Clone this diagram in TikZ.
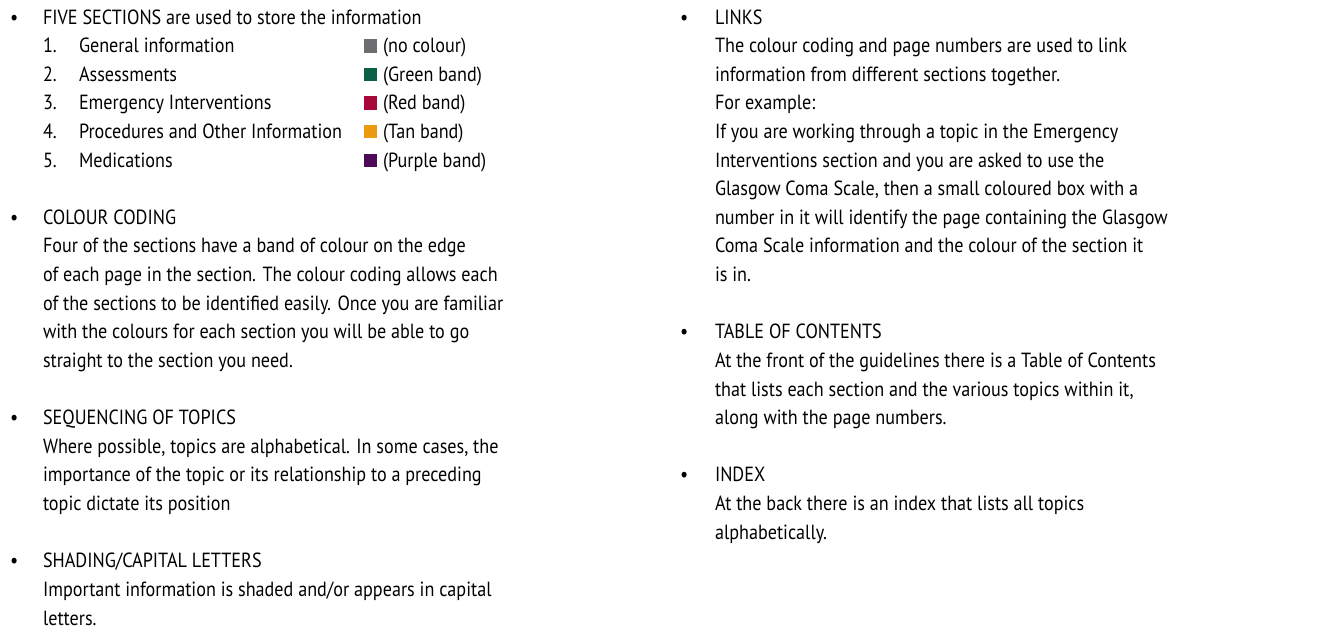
\documentclass[tikz,border=0pt]{standalone}
\usepackage{fontspec}
\newfontfamily\txtfont[FakeStretch=0.885]{PT Sans}
\definecolor{sqgray}{HTML}{6D6E71}
\definecolor{sqgreen}{HTML}{0B6148}
\definecolor{sqred}{HTML}{A8093A}
\definecolor{sqtan}{HTML}{EE9A0F}
\definecolor{sqpurple}{HTML}{4D0A57}
\begin{document}
\begin{tikzpicture}[x=1pt,y=-1pt,
  txt/.style={anchor=base west,inner sep=0pt,outer sep=0pt,font=\txtfont\fontsize{20.5}{28.62}\selectfont},
  sq/.style={anchor=south west,inner sep=0pt,outer sep=0pt,minimum size=13.4pt}]
\useasboundingbox (0,0) rectangle (1320,629);
\newcommand\Ln[4]{\node[txt] (#1) at (#2,{24+#3*28.62}) {#4};}
% left column
\Ln{b1}{10}{0}{•}
\Ln{l0}{43}{0}{FIVE SECTIONS are used to store the information}
\Ln{n1}{43}{1}{1.}\Ln{i1}{79}{1}{General information}
\Ln{n2}{43}{2}{2.}\Ln{i2}{79}{2}{Assessments}
\Ln{n3}{43}{3}{3.}\Ln{i3}{79}{3}{Emergency Interventions}
\Ln{n4}{43}{4}{4.}\Ln{i4}{79}{4}{Procedures and Other Information}
\Ln{n5}{43}{5}{5.}\Ln{i5}{79}{5}{Medications}
\node[sq,fill=sqgray] (s1) at (363.5,{24+1*28.62}) {};
\node[sq,fill=sqgreen] (s2) at (363.5,{24+2*28.62}) {};
\node[sq,fill=sqred] (s3) at (363.5,{24+3*28.62}) {};
\node[sq,fill=sqtan] (s4) at (363.5,{24+4*28.62}) {};
\node[sq,fill=sqpurple] (s5) at (363.5,{24+5*28.62}) {};
\Ln{c1}{383}{1}{(no colour)}
\Ln{c2}{383}{2}{(Green band)}
\Ln{c3}{383}{3}{(Red band)}
\Ln{c4}{383}{4}{(Tan band)}
\Ln{c5}{383}{5}{(Purple band)}
\Ln{b2}{10}{7}{•}
\Ln{l7}{43}{7}{COLOUR CODING}
\Ln{l8}{43}{8}{Four of the sections have a band of colour on the edge}
\Ln{l9}{43}{9}{of each page in the section. The colour coding allows each}
\Ln{l10}{43}{10}{of the sections to be identified easily. Once you are familiar}
\Ln{l11}{43}{11}{with the colours for each section you will be able to go}
\Ln{l12}{43}{12}{straight to the section you need.}
\Ln{b3}{10}{14}{•}
\Ln{l14}{43}{14}{SEQUENCING OF TOPICS}
\Ln{l15}{43}{15}{Where possible, topics are alphabetical. In some cases, the}
\Ln{l16}{43}{16}{importance of the topic or its relationship to a preceding}
\Ln{l17}{43}{17}{topic dictate its position}
\Ln{b4}{10}{19}{•}
\Ln{l19}{43}{19}{SHADING/CAPITAL LETTERS}
\Ln{l20}{43}{20}{Important information is shaded and/or appears in capital}
\Ln{l21}{43}{21}{letters.}
% right column
\Ln{b5}{680}{0}{•}
\Ln{r0}{715}{0}{LINKS}
\Ln{r1}{715}{1}{The colour coding and page numbers are used to link}
\Ln{r2}{715}{2}{information from different sections together.}
\Ln{r3}{715}{3}{For example:}
\Ln{r4}{715}{4}{If you are working through a topic in the Emergency}
\Ln{r5}{715}{5}{Interventions section and you are asked to use the}
\Ln{r6}{715}{6}{Glasgow Coma Scale, then a small coloured box with a}
\Ln{r7}{715}{7}{number in it will identify the page containing the Glasgow}
\Ln{r8}{715}{8}{Coma Scale information and the colour of the section it}
\Ln{r9}{715}{9}{is in.}
\Ln{b6}{680}{11}{•}
\Ln{r11}{715}{11}{TABLE OF CONTENTS}
\Ln{r12}{715}{12}{At the front of the guidelines there is a Table of Contents}
\Ln{r13}{715}{13}{that lists each section and the various topics within it,}
\Ln{r14}{715}{14}{along with the page numbers.}
\Ln{b7}{680}{16}{•}
\Ln{r16}{715}{16}{INDEX}
\Ln{r17}{715}{17}{At the back there is an index that lists all topics}
\Ln{r18}{715}{18}{alphabetically.}
\end{tikzpicture}
\end{document}
